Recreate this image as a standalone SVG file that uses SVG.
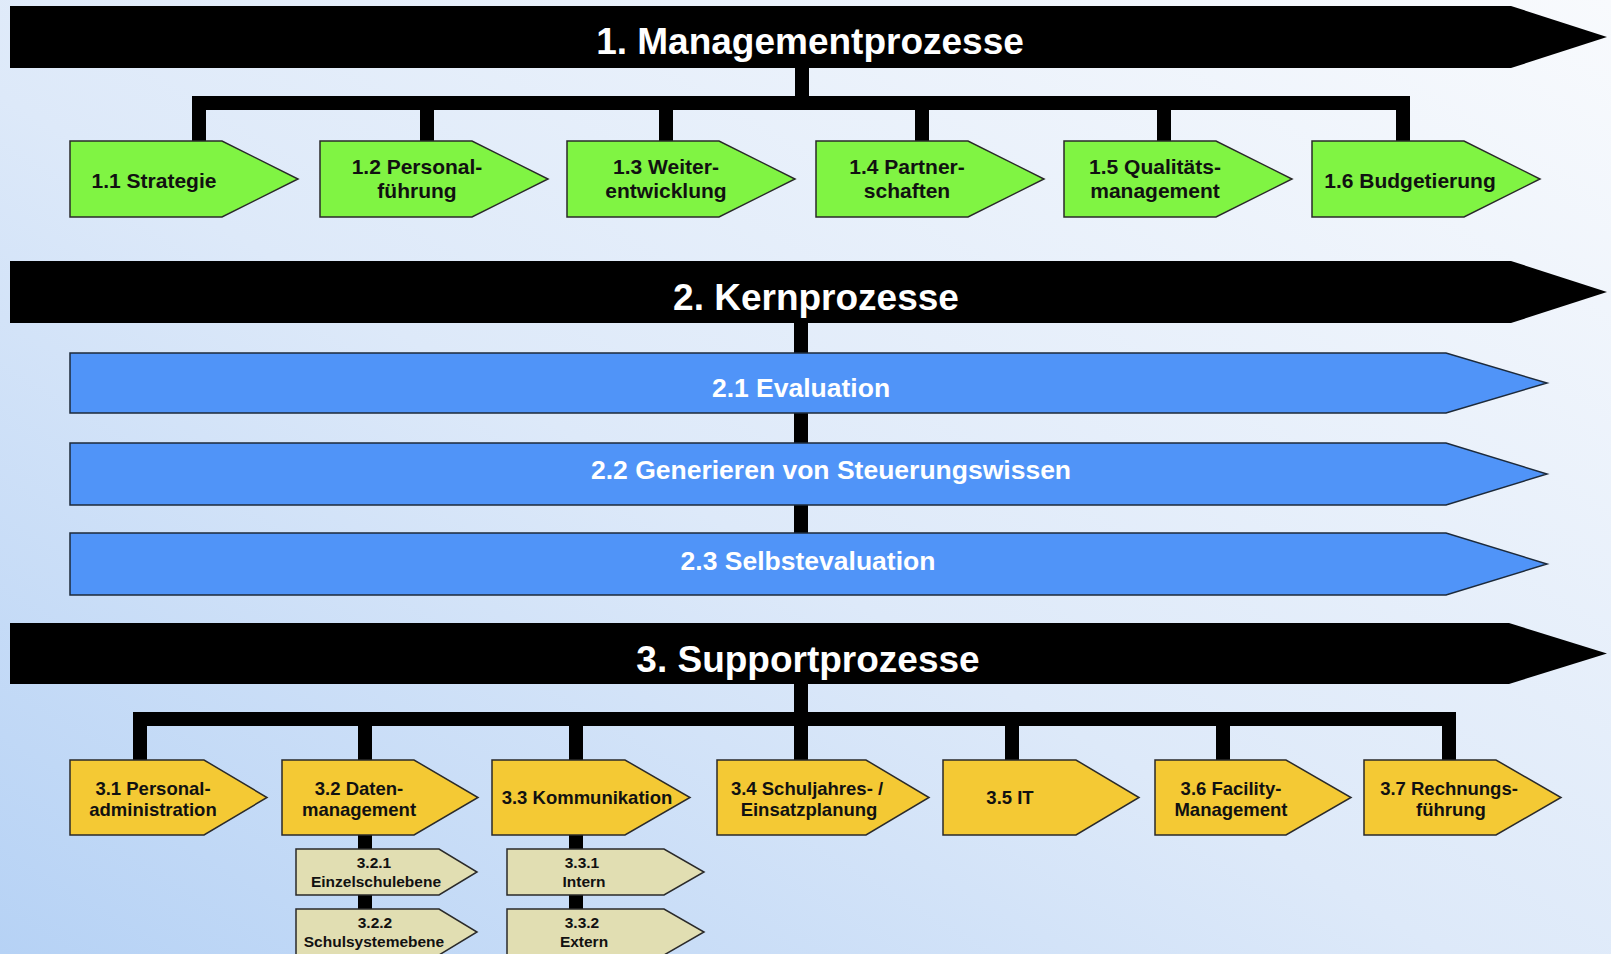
<svg xmlns="http://www.w3.org/2000/svg" width="1611" height="954" viewBox="0 0 1611 954">
<defs>
<linearGradient id="bg" x1="0" y1="1" x2="1" y2="0">
<stop offset="0" stop-color="#B6D2F5"/>
<stop offset="0.45" stop-color="#DDE9F9"/>
<stop offset="1" stop-color="#F8FAFD"/>
</linearGradient>
<style>
.bar{fill:#000;}
.ttl{font-family:"Liberation Sans",Arial,sans-serif;font-weight:bold;font-size:37px;fill:#fff;text-anchor:middle;}
.g{fill:#80F443;stroke:#2a2a2a;stroke-width:1.5;}
.b{fill:#5094F8;stroke:#1d2a3a;stroke-width:1.5;}
.y{fill:#F4C934;stroke:#2a2a2a;stroke-width:1.5;}
.s{fill:#E1DEB2;stroke:#2a2a2a;stroke-width:1.5;}
.tg{font-family:"Liberation Sans",Arial,sans-serif;font-weight:bold;font-size:21px;fill:#111;text-anchor:middle;}
.tb{font-family:"Liberation Sans",Arial,sans-serif;font-weight:bold;font-size:26.5px;fill:#fff;text-anchor:middle;}
.ty{font-family:"Liberation Sans",Arial,sans-serif;font-weight:bold;font-size:18.5px;fill:#111;text-anchor:middle;}
.ts{font-family:"Liberation Sans",Arial,sans-serif;font-weight:bold;font-size:15.5px;fill:#111;text-anchor:middle;}
.c{fill:none;stroke:#000;stroke-width:14;stroke-linejoin:miter;stroke-linecap:butt;}
</style>
</defs>
<rect x="0" y="0" width="1611" height="954" fill="url(#bg)"/>

<g id="connectors">
<path class="c" d="M802,67 V103"/>
<path class="c" d="M199,141 V103 H1403 V141"/>
<path class="c" d="M427,103 V141 M666,103 V141 M922,103 V141 M1164,103 V141"/>
<path class="c" d="M801,323 V353 M801,413 V443 M801,505 V533"/>
<path class="c" d="M801,684 V719"/>
<path class="c" d="M140,760 V719 H1449 V760"/>
<path class="c" d="M365,719 V760 M576,719 V760 M801,719 V760 M1012,719 V760 M1223,719 V760"/>
<path class="c" d="M365,835 V909 M576,835 V909"/>
</g>

<g id="bar1">
<path class="bar" d="M10,6 H1511 L1607,37 L1511,68 H10 Z"/>
<text class="ttl" x="810" y="54">1. Managementprozesse</text>
</g>
<g id="bar2">
<path class="bar" d="M10,261 H1511 L1607,292 L1511,323 H10 Z"/>
<text class="ttl" x="816" y="310">2. Kernprozesse</text>
</g>
<g id="bar3">
<path class="bar" d="M10,623 H1509 L1607,653.5 L1509,684 H10 Z"/>
<text class="ttl" x="808" y="672">3. Supportprozesse</text>
</g>

<g id="n11"><path class="g" d="M70,141 H222 L298,179 L222,217 H70 Z"/><text class="tg" x="154" y="188">1.1 Strategie</text></g>
<g id="n12"><path class="g" d="M320,141 H472 L548,179 L472,217 H320 Z"/><text class="tg" x="417" y="174">1.2 Personal-</text><text class="tg" x="417" y="198">führung</text></g>
<g id="n13"><path class="g" d="M567,141 H719 L795,179 L719,217 H567 Z"/><text class="tg" x="666" y="174">1.3 Weiter-</text><text class="tg" x="666" y="198">entwicklung</text></g>
<g id="n14"><path class="g" d="M816,141 H968 L1044,179 L968,217 H816 Z"/><text class="tg" x="907" y="174">1.4 Partner-</text><text class="tg" x="907" y="198">schaften</text></g>
<g id="n15"><path class="g" d="M1064,141 H1216 L1292,179 L1216,217 H1064 Z"/><text class="tg" x="1155" y="174">1.5 Qualitäts-</text><text class="tg" x="1155" y="198">management</text></g>
<g id="n16"><path class="g" d="M1312,141 H1464 L1540,179 L1464,217 H1312 Z"/><text class="tg" x="1410" y="188">1.6 Budgetierung</text></g>

<g id="n21"><path class="b" d="M70,353 H1446 L1547,383 L1446,413 H70 Z"/><text class="tb" x="801" y="397">2.1 Evaluation</text></g>
<g id="n22"><path class="b" d="M70,443 H1446 L1547,474 L1446,505 H70 Z"/><text class="tb" x="831" y="479">2.2 Generieren von Steuerungswissen</text></g>
<g id="n23"><path class="b" d="M70,533 H1446 L1547,564 L1446,595 H70 Z"/><text class="tb" x="808" y="570">2.3 Selbstevaluation</text></g>

<g id="n31"><path class="y" d="M70,760 H204 L267,797.5 L204,835 H70 Z"/><text class="ty" x="153" y="795">3.1 Personal-</text><text class="ty" x="153" y="816">administration</text></g>
<g id="n32"><path class="y" d="M282,760 H414 L478,797.5 L414,835 H282 Z"/><text class="ty" x="359" y="795">3.2 Daten-</text><text class="ty" x="359" y="816">management</text></g>
<g id="n33"><path class="y" d="M492,760 H625 L690,797.5 L625,835 H492 Z"/><text class="ty" x="587" y="804">3.3 Kommunikation</text></g>
<g id="n34"><path class="y" d="M717,760 H866 L929,797.5 L866,835 H717 Z"/><text class="ty" x="807" y="795">3.4 Schuljahres- /</text><text class="ty" x="809" y="816">Einsatzplanung</text></g>
<g id="n35"><path class="y" d="M943,760 H1076 L1139,797.5 L1076,835 H943 Z"/><text class="ty" x="1010" y="804">3.5 IT</text></g>
<g id="n36"><path class="y" d="M1155,760 H1286 L1351,797.5 L1286,835 H1155 Z"/><text class="ty" x="1231" y="795">3.6 Facility-</text><text class="ty" x="1231" y="816">Management</text></g>
<g id="n37"><path class="y" d="M1364,760 H1496 L1561,797.5 L1496,835 H1364 Z"/><text class="ty" x="1449" y="795">3.7 Rechnungs-</text><text class="ty" x="1451" y="816">führung</text></g>

<g id="n321"><path class="s" d="M296,849 H439 L477,872 L439,895 H296 Z"/><text class="ts" x="374" y="868">3.2.1</text><text class="ts" x="376" y="887">Einzelschulebene</text></g>
<g id="n322"><path class="s" d="M296,909 H439 L477,932 L439,955 H296 Z"/><text class="ts" x="375" y="928">3.2.2</text><text class="ts" x="374" y="947">Schulsystemebene</text></g>
<g id="n331"><path class="s" d="M507,849 H664 L704,872 L664,895 H507 Z"/><text class="ts" x="582" y="868">3.3.1</text><text class="ts" x="584" y="887">Intern</text></g>
<g id="n332"><path class="s" d="M507,909 H664 L704,932 L664,955 H507 Z"/><text class="ts" x="582" y="928">3.3.2</text><text class="ts" x="584" y="947">Extern</text></g>
</svg>
